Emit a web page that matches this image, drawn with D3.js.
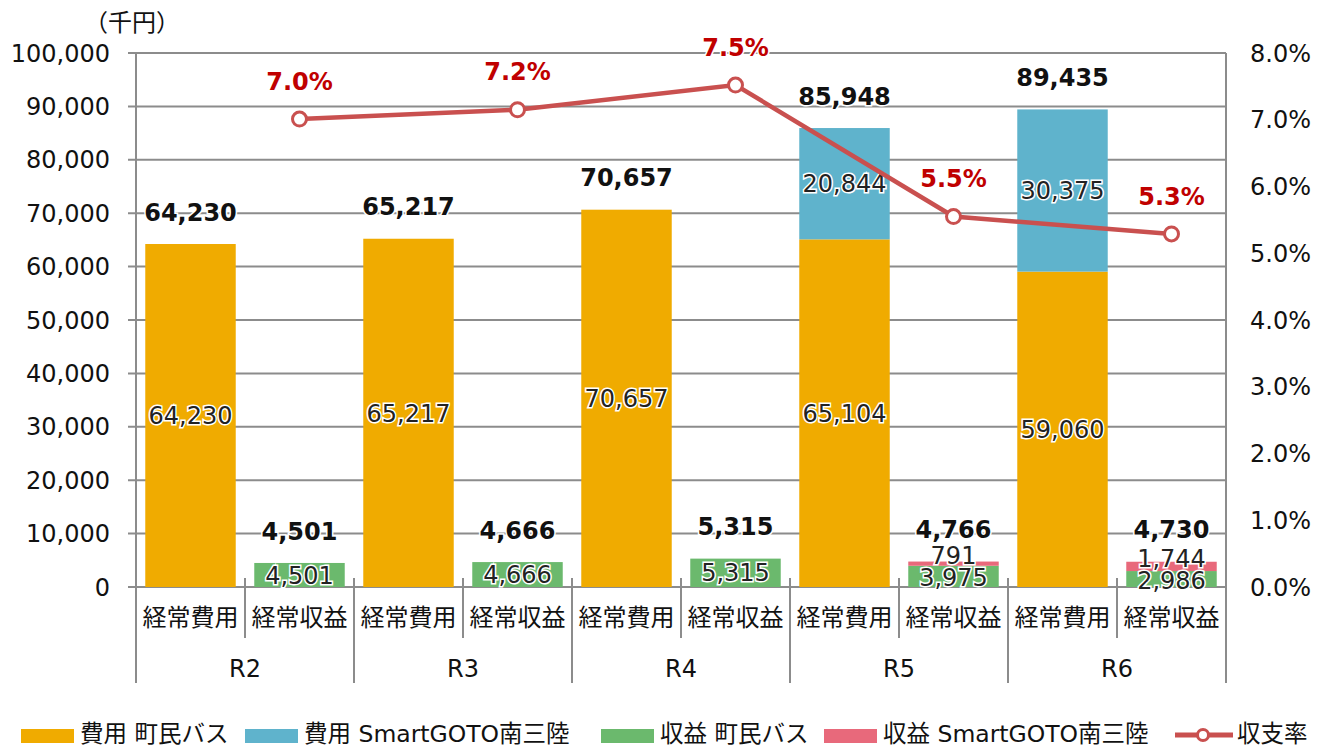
<!DOCTYPE html>
<html><head><meta charset="utf-8">
<script src="https://cdn.jsdelivr.net/npm/d3@7"></script>
<style>
body{margin:0;background:#fff;}
text{font-family:"DejaVu Sans","Noto Sans CJK JP",sans-serif;}
.jp{font-family:"Noto Sans CJK JP","DejaVu Sans",sans-serif;}
</style></head>
<body>
<svg id="c" width="1320" height="747"></svg>
<script>
const years = ["R2","R3","R4","R5","R6"];
const subCats = ["経常費用","経常収益"];
const costBus = [64230,65217,70657,65104,59060];
const costSmart = [0,0,0,20844,30375];
const revBus = [4501,4666,5315,3975,2986];
const revSmart = [0,0,0,791,1744];
const ratio = [7.01,7.15,7.52,5.55,5.29];
const ratioLabels = ["7.0%","7.2%","7.5%","5.5%","5.3%"];
const leftTicks = [0,10000,20000,30000,40000,50000,60000,70000,80000,90000,100000];
const rightTicks = [0,1,2,3,4,5,6,7,8];
const legendItems = ["費用 町民バス","費用 SmartGOTO南三陸","収益 町民バス","収益 SmartGOTO南三陸","収支率"];
const colors = {costBus:"#f0ab00",costSmart:"#5fb3cc",revBus:"#6bb96d",revSmart:"#e8697b",line:"#c9504f",lbl:"#c00000"};

const svg = d3.select("#c");
const L=136,R=1226,T=53,B=587;
const x0 = d3.scaleBand().domain(years).range([L,R]).paddingInner(0).paddingOuter(0);
const x1 = d3.scaleBand().domain(subCats).range([0,x0.bandwidth()]).paddingInner(0.17).paddingOuter(0.085);
const y = d3.scaleLinear().domain([0,100000]).range([B,T]);
const y2 = d3.scaleLinear().domain([0,8]).range([B,T]);
const grid="#8c8c8c";

// gridlines
svg.append("g").selectAll("line").data(leftTicks).join("line")
  .attr("x1",L-8).attr("x2",R).attr("y1",d=>y(d)).attr("y2",d=>y(d))
  .attr("stroke",grid).attr("stroke-width",2);
// left axis labels
const fmt = d3.format(",");
svg.append("g").selectAll("text").data(leftTicks).join("text")
  .attr("x",110).attr("y",d=>y(d)).attr("dy","0.36em").attr("text-anchor","end")
  .attr("font-size",24).attr("fill","#111").text(d=>fmt(d));
// right axis labels
svg.append("g").selectAll("text").data(rightTicks).join("text")
  .attr("x",1250).attr("y",d=>y2(d)).attr("dy","0.36em").attr("text-anchor","start")
  .attr("font-size",24).attr("fill","#111").text(d=>d3.format(".1f")(d)+"%");
// unit
svg.append("text").attr("class","jp").attr("x",132).attr("y",22).attr("dy","0.36em").attr("text-anchor","middle")
  .attr("font-size",24).attr("fill","#111").text("（千円）");

// vertical axis lines
svg.append("line").attr("x1",L).attr("x2",L).attr("y1",T).attr("y2",683).attr("stroke",grid).attr("stroke-width",2);
svg.append("line").attr("x1",R).attr("x2",R).attr("y1",T).attr("y2",683).attr("stroke",grid).attr("stroke-width",2);
// group separators and inner ticks
years.forEach((yr,i)=>{
  if(i>0) svg.append("line").attr("x1",x0(yr)).attr("x2",x0(yr)).attr("y1",578).attr("y2",683).attr("stroke",grid).attr("stroke-width",2);
  const mid = x0(yr)+x0.bandwidth()/2;
  svg.append("line").attr("x1",mid).attr("x2",mid).attr("y1",578).attr("y2",638).attr("stroke",grid).attr("stroke-width",2);
});

// bars
const bars = [];
years.forEach((yr,i)=>{
  const xc = x0(yr)+x1("経常費用"), xr = x0(yr)+x1("経常収益");
  bars.push({x:xc,segs:[{v:costBus[i],c:colors.costBus},{v:costSmart[i],c:colors.costSmart}]});
  bars.push({x:xr,segs:[{v:revBus[i],c:colors.revBus},{v:revSmart[i],c:colors.revSmart}]});
});
const w = x1.bandwidth();
const gb = svg.append("g");
const gl = svg.append("g");
bars.forEach(b=>{
  let acc=0;
  b.segs.forEach(s=>{
    if(s.v<=0) return;
    const y0v=acc, y1v=acc+s.v; acc=y1v;
    gb.append("rect").attr("x",b.x).attr("width",w).attr("y",y(y1v)).attr("height",y(y0v)-y(y1v)).attr("fill",s.c);
    s.cy=(y(y0v)+y(y1v))/2;
  });
  b.total=acc;
});
// inner labels
bars.forEach(b=>{
  b.segs.forEach(s=>{
    if(s.v<=0) return;
    let cy=s.cy;
    if(s.c===colors.revSmart) cy-=8;
    if(s.c===colors.revBus && b.segs[1].v>0) cy+=1;
    gl.append("text").attr("x",b.x+w/2).attr("y",cy).attr("dy","0.36em").attr("text-anchor","middle")
      .attr("font-size",24).attr("fill","#222").attr("stroke","#fff").attr("stroke-width",3).attr("paint-order","stroke")
      .text(fmt(s.v));
  });
  gl.append("text").attr("x",b.x+w/2).attr("y",y(b.total)-32).attr("dy","0.36em").attr("text-anchor","middle")
    .attr("font-size",24).attr("font-weight","bold").attr("fill","#111").attr("stroke","#fff").attr("stroke-width",3).attr("paint-order","stroke")
    .text(fmt(b.total));
});

// category labels
years.forEach(yr=>{
  subCats.forEach(sc=>{
    svg.append("text").attr("class","jp").attr("x",x0(yr)+x1(sc)+w/2).attr("y",617).attr("dy","0.36em").attr("text-anchor","middle")
      .attr("font-size",24).attr("fill","#111").text(sc);
  });
  svg.append("text").attr("x",x0(yr)+x0.bandwidth()/2).attr("y",668).attr("dy","0.36em").attr("text-anchor","middle")
    .attr("font-size",24).attr("fill","#111").text(yr);
});

// line
const px = i=>x0(years[i])+x1("経常収益")+w/2;
const line = d3.line().x((d,i)=>px(i)).y(d=>y2(d));
svg.append("path").datum(ratio).attr("d",line).attr("fill","none").attr("stroke",colors.line).attr("stroke-width",4.5);
svg.append("g").selectAll("circle").data(ratio).join("circle")
  .attr("cx",(d,i)=>px(i)).attr("cy",d=>y2(d)).attr("r",7).attr("fill","#fff").attr("stroke",colors.line).attr("stroke-width",3);
svg.append("g").selectAll("text").data(ratio).join("text")
  .attr("x",(d,i)=>px(i)).attr("y",d=>y2(d)-38).attr("dy","0.36em").attr("text-anchor","middle")
  .attr("font-size",24).attr("font-weight","bold").attr("fill",colors.lbl).attr("stroke","#fff").attr("stroke-width",3).attr("paint-order","stroke")
  .text((d,i)=>ratioLabels[i]);

// legend
const lg = svg.append("g");
const legX = [21,245,601,824];
const legC = [colors.costBus,colors.costSmart,colors.revBus,colors.revSmart];
for(let i=0;i<4;i++){
  lg.append("rect").attr("x",legX[i]).attr("y",729).attr("width",53).attr("height",14).attr("fill",legC[i]);
  lg.append("text").attr("x",legX[i]+59).attr("y",734).attr("dy","0.34em").attr("font-size",23.5).attr("fill","#111").text(legendItems[i]);
}
lg.append("line").attr("x1",1175).attr("x2",1233).attr("y1",735).attr("y2",735).attr("stroke",colors.line).attr("stroke-width",5);
lg.append("circle").attr("cx",1203).attr("cy",735).attr("r",5.5).attr("fill","#fff").attr("stroke",colors.line).attr("stroke-width",3);
lg.append("text").attr("x",1237).attr("y",734).attr("dy","0.34em").attr("font-size",23.5).attr("fill","#111").text(legendItems[4]);
</script>
</body></html>
